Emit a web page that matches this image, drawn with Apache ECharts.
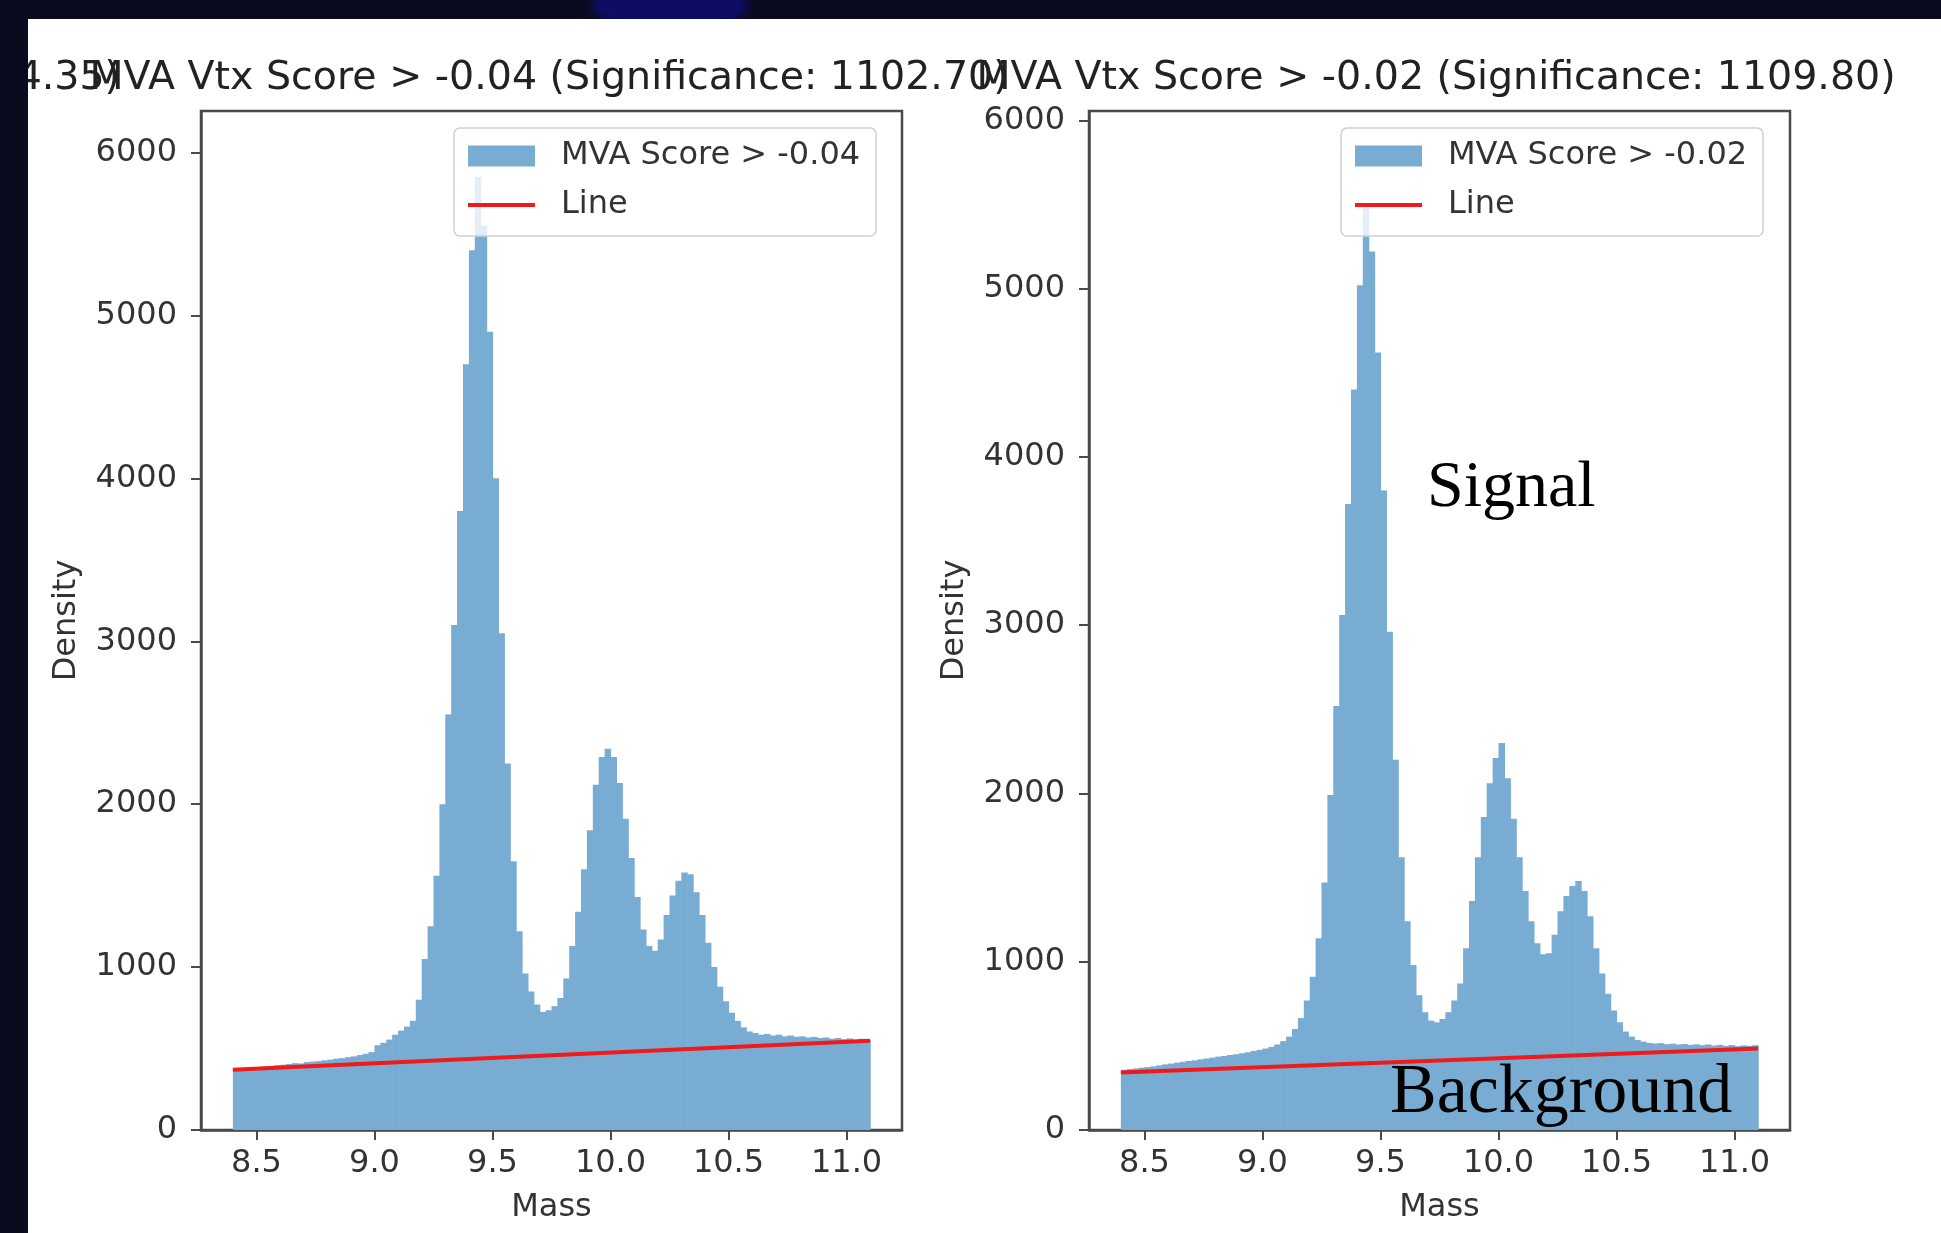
<!DOCTYPE html>
<html>
<head>
<meta charset="utf-8">
<script src="https://cdn.jsdelivr.net/npm/echarts@6/dist/echarts.min.js"></script>
<style>
html,body{margin:0;padding:0;background:#0a0b1f;width:1941px;height:1233px;overflow:hidden;position:relative}
#glow{position:absolute;left:592px;top:-20px;width:156px;height:52px;border-radius:50%;background:#0d0d64;filter:blur(5px)}
#main{position:absolute;left:28px;top:19px;width:1913px;height:1214px;background:#fff}
</style>
</head>
<body>
<div id="glow"></div>
<div id="main"></div>
<script>
// histogram bins: 8.4 .. 11.1, width 0.025
var binLo = 8.4, binW = 0.025;

// MVA score > -0.04
var countsA = [
375,372,380,384,383,390,392,398,401,405,
410,408,417,420,423,428,432,438,441,447,
452,460,468,478,520,535,555,585,610,635,
670,800,1050,1250,1560,2000,2550,3100,3800,4700,
5400,5850,5550,4900,4000,3050,2250,1650,1220,960,
850,770,725,735,760,810,930,1130,1340,1600,
1840,2120,2290,2340,2290,2130,1910,1670,1430,1230,
1130,1100,1170,1320,1440,1530,1580,1570,1460,1320,
1150,1000,880,790,720,670,630,605,595,585,
590,580,585,575,580,572,575,568,572,565,
568,560,565,558,562,555,560,552
];

// MVA score > -0.02
var countsB = [
358,362,366,370,374,378,384,390,395,400,
405,410,414,420,425,430,436,440,446,450,
456,462,470,476,484,494,508,528,555,600,
665,770,910,1140,1470,1990,2520,3060,3720,4400,
5020,5500,5220,4620,3800,2960,2200,1620,1240,980,
800,700,650,640,660,700,770,870,1080,1360,
1620,1860,2060,2210,2300,2090,1850,1620,1420,1240,
1110,1045,1050,1160,1300,1390,1450,1480,1420,1270,
1080,930,810,710,640,585,555,535,525,518,
514,516,510,513,508,511,506,509,504,508,
502,506,500,505,498,503,500,504
];

// background fit lines
var lineA = [[8.4, 370], [11.1, 548]];
var lineB = [[8.4, 342], [11.1, 484]];

var xTicks = [8.5, 9.0, 9.5, 10.0, 10.5, 11.0];
var yTicks = [0, 1000, 2000, 3000, 4000, 5000, 6000];
var titles = ['MVA Vtx Score > -0.04 (Significance: 1102.70)', 'MVA Vtx Score > -0.02 (Significance: 1109.80)'];
var histNames = ['MVA Score > -0.04', 'MVA Score > -0.02'];

var FONT = 'DejaVu Sans';
var histColor = '#78acd3';
var lineColor = '#f01a1a';
var spine = '#4a4a4a';

function toBins(counts) {
    return counts.map(function (c, i) {
        return [binLo + i * binW, binLo + (i + 1) * binW, c];
    });
}

function renderBar(params, api) {
    var p0 = api.coord([api.value(0), api.value(2)]);
    var p1 = api.coord([api.value(1), 0]);
    return {
        type: 'rect',
        shape: {x: p0[0], y: p0[1], width: p1[0] - p0[0] + 0.6, height: p1[1] - p0[1]},
        style: {fill: histColor}
    };
}

function xAxisOf(i) {
    return {
        type: 'value', gridIndex: i, min: 8.265, max: 11.235,
        name: 'Mass', nameLocation: 'middle', nameGap: 62,
        nameTextStyle: {fontFamily: FONT, fontSize: 32, color: '#333'},
        axisLine: {show: true, lineStyle: {color: spine, width: 2.5}},
        axisTick: {show: true, length: 10, customValues: xTicks, lineStyle: {color: spine, width: 2}},
        axisLabel: {customValues: xTicks, margin: 18, fontFamily: FONT, fontSize: 32, color: '#333',
            formatter: function (v) { return v.toFixed(1); }},
        splitLine: {show: false}
    };
}

function yAxisOf(i, max) {
    return {
        type: 'value', gridIndex: i, min: 0, max: max,
        name: 'Density', nameLocation: 'middle', nameGap: 118,
        nameTextStyle: {fontFamily: FONT, fontSize: 32, color: '#333'},
        axisLine: {show: true, lineStyle: {color: spine, width: 2.5}},
        axisTick: {show: true, length: 10, customValues: yTicks, lineStyle: {color: spine, width: 2}},
        axisLabel: {customValues: yTicks, margin: 24, fontFamily: FONT, fontSize: 32, color: '#333',
            formatter: function (v) { return String(v); }},
        splitLine: {show: false}
    };
}

function legendOf(left, name) {
    return {
        orient: 'vertical', left: left, top: 109,
        itemWidth: 67, itemHeight: 21, itemGap: 17,
        padding: [12, 16, 15, 14],
        backgroundColor: 'rgba(255,255,255,0.8)',
        borderColor: '#cfcfcf', borderWidth: 1.5, borderRadius: 6,
        textStyle: {fontFamily: FONT, fontSize: 32, color: '#333', lineHeight: 32, padding: [0, 0, 0, 21]},
        data: [
            {name: name, icon: 'rect'},
            {name: 'Line', icon: 'path://M0,0H67V4H0Z', itemStyle: {color: lineColor}}
        ]
    };
}

var myecharts = echarts.init(document.getElementById('main'));
var option = {
    animation: false,
    backgroundColor: '#fff',
    grid: [
        {left: 173, top: 92, width: 701, height: 1019, show: true, borderColor: spine, borderWidth: 2.5},
        {left: 1061, top: 92, width: 701, height: 1019, show: true, borderColor: spine, borderWidth: 2.5}
    ],
    xAxis: [xAxisOf(0), xAxisOf(1)],
    yAxis: [yAxisOf(0, 6255), yAxisOf(1, 6055)],
    legend: [legendOf(426, histNames[0]), legendOf(1313, histNames[1])],
    graphic: [
        {type: 'text', x: 92, y: 60, z: 50, style: {text: '4.35)', align: 'right', verticalAlign: 'middle', font: '39.5px "DejaVu Sans"', fill: '#222'}},
        {type: 'text', x: 521, y: 60, z: 50, style: {text: titles[0], align: 'center', verticalAlign: 'middle', font: '39.5px "DejaVu Sans"', fill: '#222'}},
        {type: 'text', x: 1408, y: 60, z: 50, style: {text: titles[1], align: 'center', verticalAlign: 'middle', font: '39.5px "DejaVu Sans"', fill: '#222'}},
        {type: 'text', x: 1399, y: 470, z: 100, style: {text: 'Signal', align: 'left', verticalAlign: 'middle', font: '66px "Liberation Serif"', fill: '#000'}},
        {type: 'text', x: 1362, y: 1075, z: 100, style: {text: 'Background', align: 'left', verticalAlign: 'middle', font: '70px "Liberation Serif"', fill: '#000'}}
    ],
    series: [
        {name: histNames[0], type: 'custom', xAxisIndex: 0, yAxisIndex: 0, renderItem: renderBar,
            itemStyle: {color: histColor}, encode: {x: [0, 1], y: 2}, data: toBins(countsA)},
        {name: 'Line', type: 'line', xAxisIndex: 0, yAxisIndex: 0, symbol: 'none', z: 3,
            itemStyle: {color: lineColor}, lineStyle: {color: lineColor, width: 4}, data: lineA},
        {name: histNames[1], type: 'custom', xAxisIndex: 1, yAxisIndex: 1, renderItem: renderBar,
            itemStyle: {color: histColor}, encode: {x: [0, 1], y: 2}, data: toBins(countsB)},
        {name: 'Line', type: 'line', xAxisIndex: 1, yAxisIndex: 1, symbol: 'none', z: 3,
            itemStyle: {color: lineColor}, lineStyle: {color: lineColor, width: 4}, data: lineB}
    ]
};
myecharts.setOption(option);
</script>
</body>
</html>
